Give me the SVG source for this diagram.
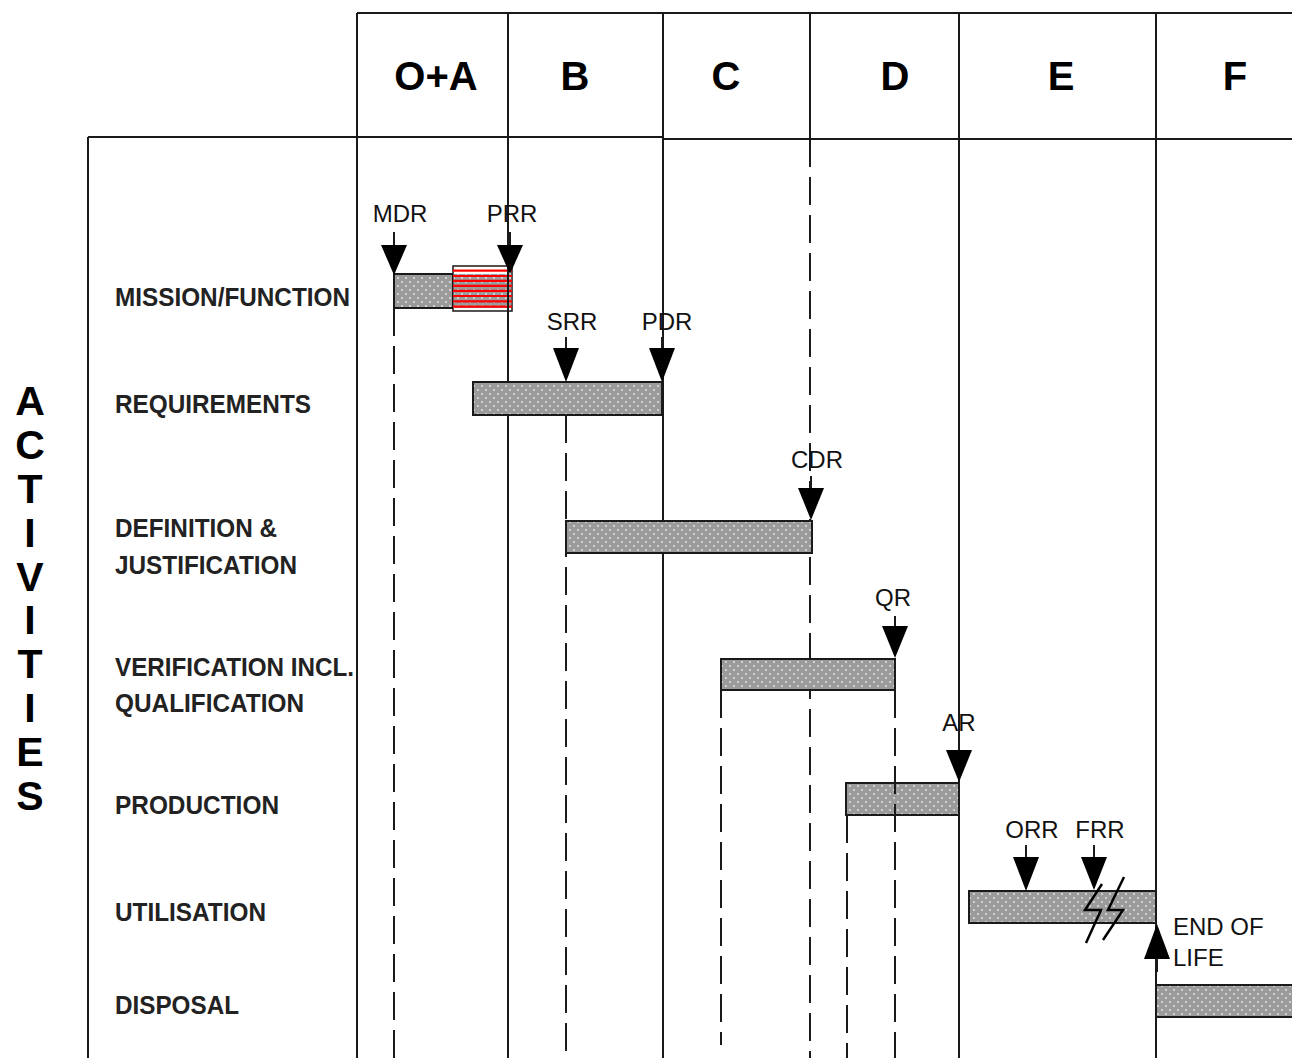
<svg xmlns="http://www.w3.org/2000/svg" width="1292" height="1058" viewBox="0 0 1292 1058">
<style>
.ln{stroke:#1a1a1a;stroke-width:2;fill:none}
.dash{stroke:#1a1a1a;stroke-width:2;fill:none;stroke-dasharray:28 10}
.bar{fill:url(#dots);stroke:#1a1a1a;stroke-width:2}
.hdr{font-family:"Liberation Sans",Arial,sans-serif;font-weight:bold;font-size:40px;fill:#000;text-anchor:middle}
.act{font-family:"Liberation Sans",Arial,sans-serif;font-weight:bold;font-size:41px;fill:#000;text-anchor:middle}
.lbl{font-family:"Liberation Sans",Arial,sans-serif;font-weight:bold;font-size:26px;fill:#222}
.ms{font-family:"Liberation Sans",Arial,sans-serif;font-size:24px;fill:#111;text-anchor:middle}
.msl{font-family:"Liberation Sans",Arial,sans-serif;font-size:24px;fill:#111}
.tri{fill:#000}
.red{stroke:#ff0000;stroke-width:2.2}
.brk{stroke:#000;stroke-width:2.5;fill:none}
</style>
<defs>
<pattern id="dots" width="8" height="8" patternUnits="userSpaceOnUse">
<rect width="8" height="8" fill="#9b9b9b"/>
<circle cx="2" cy="2" r="0.9" fill="#e8e8e8"/>
<circle cx="6" cy="6" r="0.9" fill="#e8e8e8"/>
</pattern>
</defs>
<rect width="1292" height="1058" fill="#fff"/>

<g id="grid">
<line class="ln" x1="357" y1="13" x2="1292" y2="13"/>
<line class="ln" x1="88" y1="137" x2="663" y2="137"/>
<line class="ln" x1="663" y1="139" x2="1292" y2="139"/>
<line class="ln" x1="88" y1="137" x2="88" y2="1058"/>
<line class="ln" x1="357" y1="13" x2="357" y2="1058"/>
<line class="ln" x1="508" y1="13" x2="508" y2="1058"/>
<line class="ln" x1="663" y1="13" x2="663" y2="1058"/>
<line class="ln" x1="810" y1="13" x2="810" y2="139"/>
<line class="ln" x1="959" y1="13" x2="959" y2="1058"/>
<line class="ln" x1="1156" y1="13" x2="1156" y2="1058"/>
</g>

<g id="phases">
<text class="hdr" x="436" y="90">O+A</text>
<text class="hdr" x="575" y="90">B</text>
<text class="hdr" x="726" y="90">C</text>
<text class="hdr" x="895" y="90">D</text>
<text class="hdr" x="1061" y="90">E</text>
<text class="hdr" x="1235" y="90">F</text>
</g>

<g id="activities-title">
<text class="act" x="30" y="415">A</text>
<text class="act" x="30" y="459">C</text>
<text class="act" x="30" y="503">T</text>
<text class="act" x="30" y="547">I</text>
<text class="act" x="30" y="591">V</text>
<text class="act" x="30" y="634">I</text>
<text class="act" x="30" y="678">T</text>
<text class="act" x="30" y="722">I</text>
<text class="act" x="30" y="766">E</text>
<text class="act" x="30" y="810">S</text>
</g>

<g id="connectors">
<line class="dash" x1="394" y1="308" x2="394" y2="1058"/>
<line class="dash" x1="566" y1="415" x2="566" y2="1058"/>
<line class="dash" x1="810" y1="139" x2="810" y2="1058"/>
<line class="dash" x1="721" y1="690" x2="721" y2="1045"/>
<line class="dash" x1="847" y1="815" x2="847" y2="1058"/>
</g>

<g id="mission-function">
<text class="lbl" x="115" y="306" textLength="235" lengthAdjust="spacingAndGlyphs">MISSION/FUNCTION</text>
<rect class="bar" x="394" y="274" width="59" height="34"/>
<rect x="453" y="266" width="59" height="45" fill="#fff" stroke="#1a1a1a" stroke-width="1.5"/>
<rect x="453.8" y="274" width="57.4" height="34" fill="url(#dots)"/>
<line class="red" x1="453" y1="270.7" x2="512" y2="270.7"/>
<line class="red" x1="453" y1="276" x2="512" y2="276"/>
<line class="red" x1="453" y1="280.8" x2="512" y2="280.8"/>
<line class="red" x1="453" y1="285.8" x2="512" y2="285.8"/>
<line class="red" x1="453" y1="290.8" x2="512" y2="290.8"/>
<line class="red" x1="453" y1="296" x2="512" y2="296"/>
<line class="red" x1="453" y1="301.3" x2="512" y2="301.3"/>
<line class="red" x1="453" y1="306.6" x2="512" y2="306.6"/>
<line class="ln" x1="508" y1="260" x2="508" y2="315"/>
</g>

<g id="requirements">
<text class="lbl" x="115" y="413" textLength="196" lengthAdjust="spacingAndGlyphs">REQUIREMENTS</text>
<rect class="bar" x="473" y="382" width="189" height="33"/>
</g>

<g id="definition-justification">
<text class="lbl" x="115" y="537" textLength="162" lengthAdjust="spacingAndGlyphs">DEFINITION &amp;</text>
<text class="lbl" x="115" y="574" textLength="182" lengthAdjust="spacingAndGlyphs">JUSTIFICATION</text>
<rect class="bar" x="566" y="521" width="246" height="32"/>
</g>

<g id="verification-qualification">
<text class="lbl" x="115" y="676" textLength="239" lengthAdjust="spacingAndGlyphs">VERIFICATION INCL.</text>
<text class="lbl" x="115" y="712" textLength="189" lengthAdjust="spacingAndGlyphs">QUALIFICATION</text>
<rect class="bar" x="721" y="659" width="174" height="31"/>
</g>

<g id="production">
<text class="lbl" x="115" y="814" textLength="164" lengthAdjust="spacingAndGlyphs">PRODUCTION</text>
<rect class="bar" x="846" y="783" width="113" height="32"/>
<line class="dash" x1="895" y1="690" x2="895" y2="1058"/>
</g>

<g id="utilisation">
<text class="lbl" x="115" y="921" textLength="151" lengthAdjust="spacingAndGlyphs">UTILISATION</text>
<rect class="bar" x="969" y="891" width="187" height="32"/>
</g>

<g id="disposal">
<text class="lbl" x="115" y="1014" textLength="124" lengthAdjust="spacingAndGlyphs">DISPOSAL</text>
<rect class="bar" x="1156" y="985" width="140" height="32"/>
</g>

<g id="milestones">
<g id="mdr">
<text class="ms" x="400" y="222">MDR</text>
<line class="ln" x1="394" y1="232" x2="394" y2="246"/>
<polygon class="tri" points="381,245 407,245 394,275"/>
</g>
<g id="prr">
<text class="ms" x="512" y="222">PRR</text>
<line class="ln" x1="510" y1="232" x2="510" y2="246"/>
<polygon class="tri" points="497,245 523,245 510,274"/>
</g>
<g id="srr">
<text class="ms" x="572" y="330">SRR</text>
<line class="ln" x1="566" y1="337" x2="566" y2="349"/>
<polygon class="tri" points="553,348 579,348 566,382"/>
</g>
<g id="pdr">
<text class="ms" x="667" y="330">PDR</text>
<line class="ln" x1="662" y1="337" x2="662" y2="349"/>
<polygon class="tri" points="649,348 675,348 662,382"/>
</g>
<g id="cdr">
<text class="ms" x="817" y="468">CDR</text>
<line class="ln" x1="811" y1="476" x2="811" y2="489"/>
<polygon class="tri" points="798,488 824,488 811,520"/>
</g>
<g id="qr">
<text class="ms" x="893" y="606">QR</text>
<line class="ln" x1="895" y1="616" x2="895" y2="627"/>
<polygon class="tri" points="882,626 908,626 895,658"/>
</g>
<g id="ar">
<text class="ms" x="959" y="731">AR</text>
<polygon class="tri" points="946,750 972,750 959,782"/>
</g>
<g id="orr">
<text class="ms" x="1032" y="838">ORR</text>
<line class="ln" x1="1026" y1="845" x2="1026" y2="858"/>
<polygon class="tri" points="1013,857 1039,857 1026,891"/>
</g>
<g id="frr">
<text class="ms" x="1100" y="838">FRR</text>
<line class="ln" x1="1094" y1="845" x2="1094" y2="858"/>
<polygon class="tri" points="1081,857 1107,857 1094,890"/>
</g>
<g id="break">
<path class="brk" d="M1102,884 L1085,910 L1101,910 L1086,943"/>
<path class="brk" d="M1124,877 L1108,910 L1123,910 L1103,940"/>
</g>
<g id="end-of-life">
<polygon class="tri" points="1144,959 1170,959 1157,924"/>
<line class="ln" x1="1157" y1="958" x2="1157" y2="972"/>
<text class="msl" x="1173" y="935">END OF</text>
<text class="msl" x="1173" y="966">LIFE</text>
</g>
</g>
</svg>
